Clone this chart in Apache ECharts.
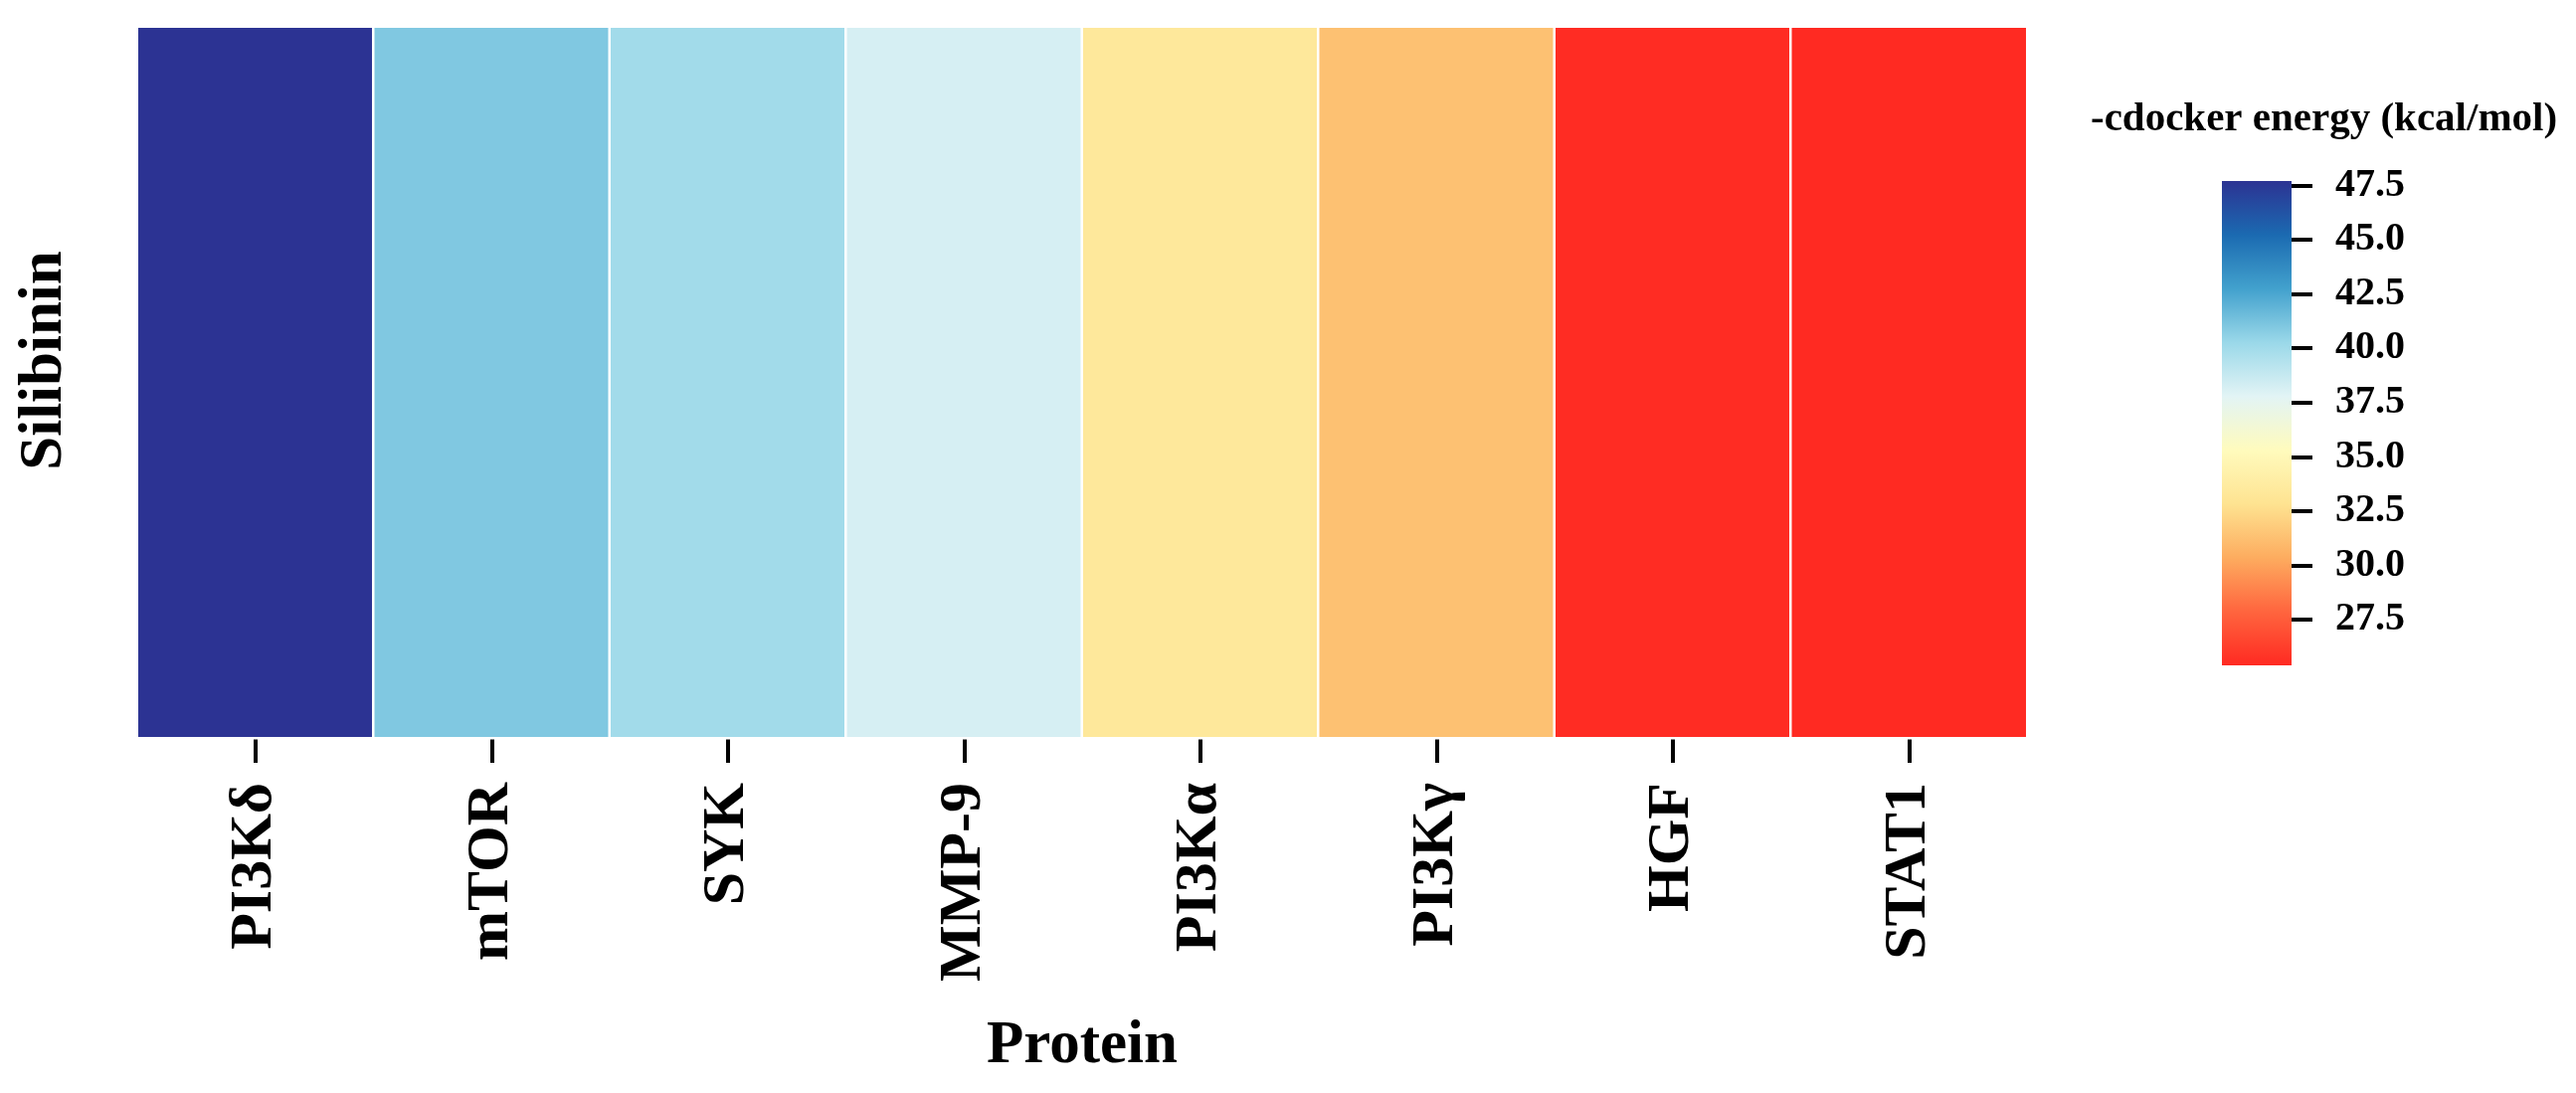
<!DOCTYPE html>
<html>
<head>
<meta charset="utf-8">
<script src="https://cdn.jsdelivr.net/npm/echarts@6/dist/echarts.min.js"></script>
<style>
  html, body { margin: 0; padding: 0; background: #fff; }
  #chart { width: 2590px; height: 1099px; }
</style>
</head>
<body>
<div id="chart"></div>
<script>
// data
const proteins = ['PI3K\u03b4', 'mTOR', 'SYK', 'MMP-9', 'PI3K\u03b1', 'PI3K\u03b3', 'HGF', 'STAT1'];
const compounds = ['Silibinin'];
const energy = [47.7, 41.0, 40.0, 38.2, 33.4, 31.3, 25.5, 25.4];
const scaleMin = 25.4;
const scaleMax = 47.7;
const scaleTicks = [27.5, 30.0, 32.5, 35.0, 37.5, 40.0, 42.5, 45.0, 47.5];

// colour ramp, low -> high
const ramp = ['#ff2a22', '#ff653e', '#fdac5f', '#fee391', '#fffbbd',
              '#e2f4f5', '#9ad8e9', '#42a1cd', '#1b6ab1', '#2c3393'];

const FONT = 'Liberation Serif';

let chart = echarts.init(document.getElementById('chart'));

let cells = energy.map((v, i) => [i, 0, v]);
let gradStops = ramp.slice().reverse().map((c, i, a) => ({offset: i / (a.length - 1), color: c}));

chart.setOption({
  animation: false,
  title: {
    text: '-cdocker energy (kcal/mol)',
    left: 2102,
    top: 100,
    padding: 0,
    textStyle: {fontFamily: FONT, fontWeight: 'bold', fontSize: 41, color: '#000'}
  },
  visualMap: {
    show: false,
    seriesIndex: 0,
    min: scaleMin,
    max: scaleMax,
    inRange: {color: ramp}
  },
  grid: [
    {left: 138, right: 552, top: 27, bottom: 357},
    {left: 2234, top: 182, width: 70, height: 487}
  ],
  xAxis: [
    {
      type: 'category',
      data: proteins,
      name: 'Protein',
      nameLocation: 'middle',
      nameGap: 280,
      nameTextStyle: {fontFamily: FONT, fontWeight: 'bold', fontSize: 61, color: '#000'},
      axisLine: {show: false},
      axisTick: {show: true, alignWithLabel: true, length: 25, lineStyle: {color: '#000', width: 4}},
      axisLabel: {rotate: 90, margin: 45, fontFamily: FONT, fontWeight: 'bold', fontSize: 60, color: '#000'},
      splitLine: {show: false}
    },
    {gridIndex: 1, type: 'category', data: ['bar'], show: false}
  ],
  yAxis: [
    {
      type: 'category',
      data: compounds,
      axisLine: {show: false},
      axisTick: {show: false},
      axisLabel: {rotate: 90, margin: 62, padding: [0, 0, 0, 44], fontFamily: FONT, fontWeight: 'bold', fontSize: 61, color: '#000'},
      splitLine: {show: false}
    },
    {
      gridIndex: 1,
      type: 'value',
      position: 'right',
      min: scaleMin,
      max: scaleMax,
      axisLine: {show: false},
      splitLine: {show: false},
      axisTick: {show: true, customValues: scaleTicks, length: 21, lineStyle: {color: '#000', width: 4}},
      axisLabel: {
        customValues: scaleTicks,
        margin: 44,
        fontFamily: FONT, fontWeight: 'bold', fontSize: 40, color: '#000',
        formatter: (v) => v.toFixed(1)
      }
    }
  ],
  series: [
    {
      type: 'heatmap',
      data: cells,
      itemStyle: {borderColor: '#fff', borderWidth: 2.5},
      label: {show: false}
    },
    {
      type: 'bar',
      xAxisIndex: 1,
      yAxisIndex: 1,
      stack: 'cb',
      barWidth: '100%',
      silent: true,
      data: [scaleMin],
      itemStyle: {color: 'rgba(0,0,0,0)'}
    },
    {
      type: 'bar',
      xAxisIndex: 1,
      yAxisIndex: 1,
      stack: 'cb',
      barWidth: '100%',
      silent: true,
      data: [scaleMax - scaleMin],
      itemStyle: {color: new echarts.graphic.LinearGradient(0, 0, 0, 1, gradStops)}
    }
  ]
});
</script>
</body>
</html>
